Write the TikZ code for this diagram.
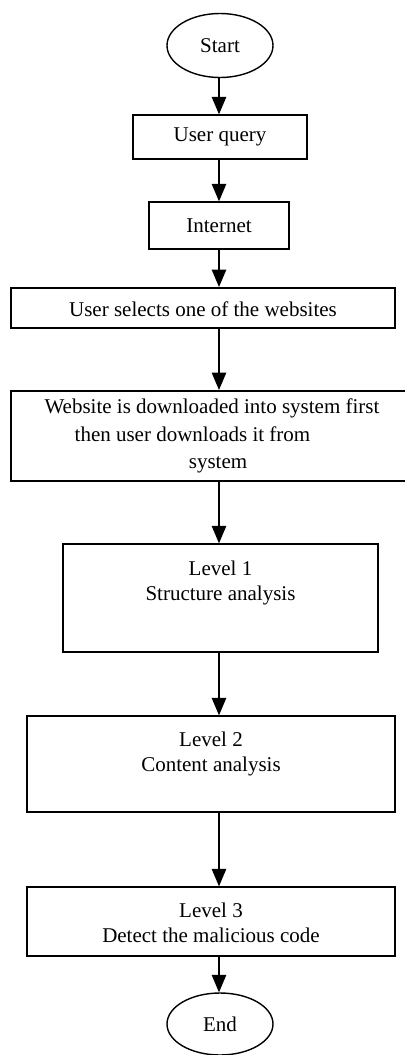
\documentclass[tikz,border=0pt]{standalone}
\usepackage{fontspec}
\setmainfont{Liberation Serif}
\usepackage{tikz}
\usetikzlibrary{arrows}
\usetikzlibrary{shapes.geometric}

\tikzset{
  box/.style={draw, line width=0.7pt, rectangle, inner sep=0pt},
  oval/.style={draw, line width=0.7pt, ellipse, inner sep=0pt, minimum width=53pt, minimum height=32pt},
  txt/.style={align=center, inner sep=0pt, font=\fontsize{10.5}{12.5}\selectfont},
  flow/.style={line width=1pt, -triangle 45}
}

\begin{document}
\begin{tikzpicture}[x=0.5pt, y=-0.5pt]

\useasboundingbox (0,0) rectangle (405,1055);

\coordinate (ax) at (219,0); % arrows run down this line

\node[oval, txt] (start) at (220,45.5) {Start};
\node[box, txt, minimum width=87pt, minimum height=22pt] (query) at (220,137) {User query};
\node[box, txt, minimum width=70pt, minimum height=23.5pt] (inet) at (219,225.5) {Internet};
\node[box, line width=1pt, minimum width=192pt, minimum height=20pt] (select) at (203,308) {};
\node[txt] (selectt) at (203,309) {User selects one of the websites};

\node[box, line width=1pt, minimum width=200.5pt, minimum height=45pt] (web) at (211.5,436) {};
\node[txt, font=\fontsize{10.5}{13.75}\selectfont] (webt) at (212,436)
  {Website is downloaded into system first\\
   then user downloads it from\rule{19.5pt}{0pt}\\
   \rule{6pt}{0pt}system};

% the three levels
\node[box, minimum width=157.5pt, minimum height=54pt] (lvl1) at (220.5,598) {};
\node[txt, anchor=north] (lvl1t) at ([yshift=-8.5pt]lvl1.north) {Level 1\\Structure analysis};

\node[box, minimum width=184pt, minimum height=48pt] (lvl2) at (211,764) {};
\node[txt, anchor=north] (lvl2t) at ([yshift=-8pt]lvl2.north) {Level 2\\Content analysis};

\node[box, minimum width=184pt, minimum height=34.5pt] (lvl3) at (211,921.5) {};
\node[txt, anchor=north] (lvl3t) at ([yshift=-8pt]lvl3.north) {Level 3\\Detect the malicious code};

\node[oval, txt, minimum height=31pt] (end) at (220,1024) {End};

\draw [flow] (start.south -| ax)--(query.north -| ax);
\draw [flow] (query.south -| ax)--(inet.north -| ax);
\draw [flow] (inet.south -| ax)--(select.north -| ax);
\draw [flow] (select.south -| ax)--(web.north -| ax);
\draw [flow] (web.south -| ax)--(lvl1.north -| ax);
\draw [flow] (lvl1.south -| ax)--(lvl2.north -| ax);
\draw [flow] (lvl2.south -| ax)--(lvl3.north -| ax);
\draw [flow] (lvl3.south -| ax)--(end.north -| ax);

\end{tikzpicture}
\end{document}
